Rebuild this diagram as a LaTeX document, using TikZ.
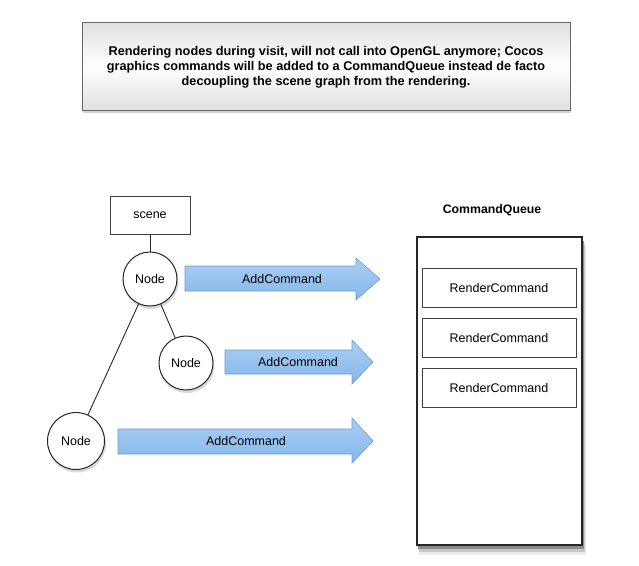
\documentclass[tikz,border=0pt]{standalone}
\usepackage{fontspec}
\setmainfont{Liberation Sans}
\definecolor{arrowtop}{RGB}{170,206,243}
\definecolor{arrowbot}{RGB}{135,183,234}
\definecolor{arrowline}{RGB}{104,156,214}
\begin{document}
\begin{tikzpicture}[x=1pt,y=-1pt,
    box/.style={draw=black!75, fill=white, line width=0.9pt, inner sep=0pt},
    treenode/.style={circle, draw=black!85, fill=white, line width=1pt,
      minimum size=54pt, inner sep=0pt, font=\fontsize{12.5}{15}\selectfont},
    cmdarrow/.style={top color=arrowtop, bottom color=arrowbot, draw=arrowline, line width=0.6pt},
    label/.style={inner sep=0pt, font=\fontsize{12.5}{15}\selectfont}]
      \useasboundingbox (0,0) rectangle (639,565);

      % shadows, drawn first
      \fill[black!8] (419,246) rectangle (586,555);
      \fill[black!22] (419,244) rectangle (585,552);
      \fill[black!45] (418,241) rectangle (584,549);
      \fill[black!18] (83,25) rectangle (571,113);
      \fill[black!15] (151,281.5) circle[radius=27.5];
      \fill[black!15] (187,365.5) circle[radius=27.5];
      \fill[black!15] (77,443.5) circle[radius=29];

      % note at the top
      \node[box, draw=black!60, top color=black!12, bottom color=black!12, middle color=white,
        minimum width=488pt, minimum height=88pt] (note) at (326,66) {};
      \node[align=center, inner sep=0pt, font=\fontsize{12.7}{15}\selectfont\bfseries] (notetext) at (326,67.5)
        {Rendering nodes during visit, will not call into OpenGL anymore; Cocos\\
         graphics commands will be added to a CommandQueue instead de facto\\
         decoupling the scene graph from the rendering.};

      % scene graph
      \node[box, minimum width=80pt, minimum height=38pt, label] (scene) at (150,215) {scene};
      \node[treenode] (n1) at (150,279) {Node};
      \node[treenode] (n2) at (186,363) {Node};
      \node[treenode, minimum size=57pt] (n3) at (76,441) {Node};
      \draw[black!85, line width=0.9pt] (scene) -- (n1);
      \draw[black!85, line width=0.9pt] (n1) -- (n2);
      \draw[black!85, line width=0.9pt] (n1) -- (n3);

      % AddCommand arrows
      \draw[cmdarrow] (185,266) -- (356,266) -- (356,258) -- (380,279) -- (356,300) -- (356,291) -- (185,291) -- cycle;
      \draw[cmdarrow] (225,350) -- (352,350) -- (352,340) -- (373,362) -- (352,384) -- (352,374) -- (225,374) -- cycle;
      \draw[cmdarrow] (118,429) -- (352,429) -- (352,418) -- (373,441) -- (352,463) -- (352,454) -- (118,454) -- cycle;
      \node[label] (add1) at (282,279) {AddCommand};
      \node[label] (add2) at (298,362) {AddCommand};
      \node[label] (add3) at (246,441) {AddCommand};

      % command queue
      \node[label, font=\fontsize{12.3}{14}\selectfont\bfseries] (qtitle) at (492,210) {CommandQueue};
      \node[box, draw=black!85, line width=1.1pt, minimum width=165pt, minimum height=308pt] (queue) at (499.5,391) {};
      \node[box, minimum width=154pt, minimum height=39pt, label] (rc1) at (499,288) {RenderCommand};
      \node[box, minimum width=154pt, minimum height=39pt, label] (rc2) at (499,338) {RenderCommand};
      \node[box, minimum width=154pt, minimum height=39pt, label] (rc3) at (499,388) {RenderCommand};
\end{tikzpicture}
\end{document}
